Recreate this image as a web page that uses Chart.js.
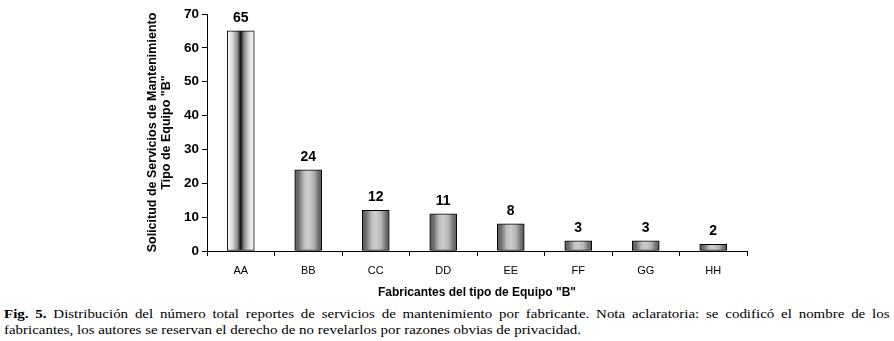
<!DOCTYPE html>
<html>
<head>
<meta charset="utf-8">
<script src="https://cdn.jsdelivr.net/npm/chart.js@4.4.1/dist/chart.umd.min.js"></script>
<style>
  body { margin: 0; background: #fff; }
  #wrap { position: absolute; left: 0; top: 0; width: 894px; height: 300px; }
  #caption {
    position: absolute; left: 4px; top: 306px; width: 770px;
    transform: scaleX(1.15); transform-origin: 0 0;
    font-family: "Liberation Serif", "Times New Roman", serif;
    font-size: 13px; line-height: 16px; text-align: justify; color: #000;
  }
</style>
</head>
<body>
<div id="wrap"><canvas id="chart" width="894" height="300"></canvas></div>
<div id="caption"><b>Fig. 5.</b> Distribución del número total reportes de servicios de mantenimiento por fabricante. Nota aclaratoria: se codificó el nombre de los fabricantes, los autores se reservan el derecho de no revelarlos por razones obvias de privacidad.</div>
<script>
const fabricantes = ['AA', 'BB', 'CC', 'DD', 'EE', 'FF', 'GG', 'HH'];
const solicitudes = [65, 24, 12, 11, 8, 3, 3, 2];
const yTicks = [0, 10, 20, 30, 40, 50, 60, 70];

const BAR_W = 27;

function barFill(c) {
    const chart = c.chart;
    if (!chart.chartArea || !chart.scales.x) return '#aaa';
    const cx = chart.scales.x.getPixelForValue(c.dataIndex);
    const g = chart.ctx.createLinearGradient(cx - BAR_W / 2, 0, cx + BAR_W / 2, 0);
    if (c.dataIndex === 0) {
        g.addColorStop(0, '#ffffff');
        g.addColorStop(0.2, '#d8d8d8');
        g.addColorStop(0.38, '#8a8a8a');
        g.addColorStop(0.5, '#111111');
        g.addColorStop(0.62, '#8a8a8a');
        g.addColorStop(0.8, '#d8d8d8');
        g.addColorStop(1, '#ffffff');
    } else {
        g.addColorStop(0, '#5a5a5a');
        g.addColorStop(0.15, '#707070');
        g.addColorStop(0.35, '#c0c0c0');
        g.addColorStop(0.5, '#cdcdcd');
        g.addColorStop(0.7, '#b4b4b4');
        g.addColorStop(0.88, '#707070');
        g.addColorStop(1, '#5a5a5a');
    }
    return g;
}

// numbers above the bars
const valueLabels = {
    id: 'valueLabels',
    afterDatasetsDraw(chart) {
        const ctx = chart.ctx;
        const meta = chart.getDatasetMeta(0);
        ctx.save();
        ctx.font = 'bold 14px "Liberation Sans", Arial, sans-serif';
        ctx.fillStyle = '#000';
        ctx.textAlign = 'center';
        ctx.textBaseline = 'alphabetic';
        meta.data.forEach((bar, i) => {
            ctx.fillText(solicitudes[i], bar.x, bar.y - 9);
        });
        ctx.restore();
    }
};

new Chart(document.getElementById('chart'), {
    type: 'bar',
    data: {
        labels: fabricantes,
        datasets: [{
            data: solicitudes,
            backgroundColor: barFill,
            borderColor: '#000',
            borderWidth: 1,
            borderSkipped: false,
            barThickness: BAR_W
        }]
    },
    options: {
        responsive: false,
        animation: false,
        layout: { padding: { left: 140, right: 147, top: 14, bottom: 0 } },
        plugins: { legend: { display: false }, tooltip: { enabled: false } },
        scales: {
            x: {
                grid: { display: true, offset: true, drawOnChartArea: false, drawTicks: true, tickLength: 5, color: '#000' },
                border: { color: '#000', width: 1 },
                ticks: { color: '#000', font: { family: '"Liberation Sans", Arial', size: 11 }, padding: 8, maxRotation: 0 },
                title: {
                    display: true,
                    text: 'Fabricantes del tipo de Equipo "B"',
                    color: '#000',
                    font: { family: '"Liberation Sans", Arial', size: 12, weight: 'bold' },
                    padding: { top: 4, bottom: 0 }
                },
                afterFit(scale) { scale.height = 49; }
            },
            y: {
                min: 0,
                max: 70,
                afterBuildTicks(scale) { scale.ticks = yTicks.map(v => ({ value: v })); },
                grid: { display: true, drawOnChartArea: false, drawTicks: true, tickLength: 5, color: '#000' },
                border: { color: '#000', width: 1 },
                ticks: { color: '#000', font: { family: '"Liberation Sans", Arial', size: 13.5, weight: 'bold' }, padding: 3 },
                title: {
                    display: true,
                    text: ['Solicitud de Servicios de Mantenimiento', 'Tipo de Equipo "B"'],
                    color: '#000',
                    font: { family: '"Liberation Sans", Arial', size: 12.5, weight: 'bold', lineHeight: 1.12 },
                    padding: { top: 6, bottom: 0 }
                },
                afterFit(scale) { scale.width = 67; }
            }
        }
    },
    plugins: [valueLabels]
});
</script>
</body>
</html>
